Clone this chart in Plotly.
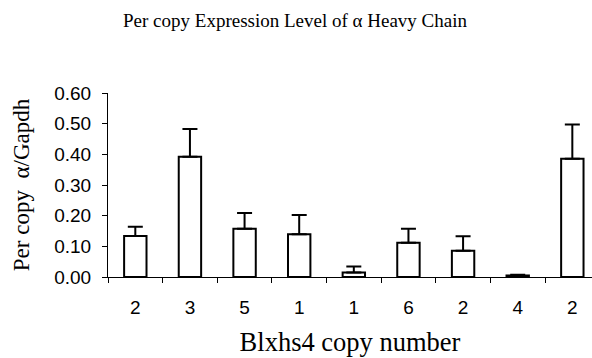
import plotly.graph_objects as go

categories = ["2", "3", "5", "1", "1", "6", "2", "4", "2"]
values = [0.134, 0.392, 0.157, 0.139, 0.015, 0.112, 0.086, 0.005, 0.386]
errors = [0.030, 0.091, 0.052, 0.063, 0.019, 0.045, 0.047, 0.002, 0.111]
yticks = [0.0, 0.1, 0.2, 0.3, 0.4, 0.5, 0.6]

xpos = list(range(len(categories)))
bounds = [i - 0.5 for i in range(len(categories) + 1)]

fig = go.Figure()
fig.add_trace(go.Bar(
    x=xpos, y=values, width=0.41,
    marker=dict(color="white", line=dict(color="black", width=2)),
    error_y=dict(type="data", array=errors, arrayminus=[0] * len(errors),
                 symmetric=False, color="black", thickness=2, width=7.5),
    showlegend=False,
))

serif = "Liberation Serif, Times New Roman, serif"
sans = "Liberation Sans, Arial, sans-serif"

fig.update_layout(
    width=592, height=358,
    margin=dict(l=108, r=0, t=93, b=81),
    paper_bgcolor="white", plot_bgcolor="white",
    title=dict(text="Per copy Expression Level of α Heavy Chain",
               font=dict(family=serif, size=19, color="black"),
               x=295 / 592, xref="container", xanchor="center",
               y=1 - 20 / 358, yanchor="middle", yref="container"),
    xaxis=dict(
        range=[-0.5, 8.36], tickmode="array", tickvals=xpos, ticktext=categories,
        ticks="", showline=True, linecolor="black", linewidth=1,
        showgrid=False, zeroline=False,
        tickfont=dict(family=sans, size=19, color="black"),
        ticklabelstandoff=13,
        minor=dict(tickmode="array", tickvals=bounds, ticks="outside",
                   ticklen=5, tickcolor="black", tickwidth=1, showgrid=False),
        title=dict(text="Blxhs4 copy number",
                   font=dict(family=serif, size=26.5, color="black"),
                   standoff=15),
    ),
    yaxis=dict(
        range=[0, 0.6], tickmode="array", tickvals=yticks, tickformat=".2f",
        ticks="outside", ticklen=5, tickcolor="black", tickwidth=1,
        showline=True, linecolor="black", linewidth=1,
        showgrid=False, zeroline=False,
        tickfont=dict(family=sans, size=19, color="black"),
        ticklabelstandoff=7,
        title=dict(text="Per copy  α/Gapdh",
                   font=dict(family=serif, size=23, color="black"),
                   standoff=18),
    ),
)

fig.write_html("out.html")
